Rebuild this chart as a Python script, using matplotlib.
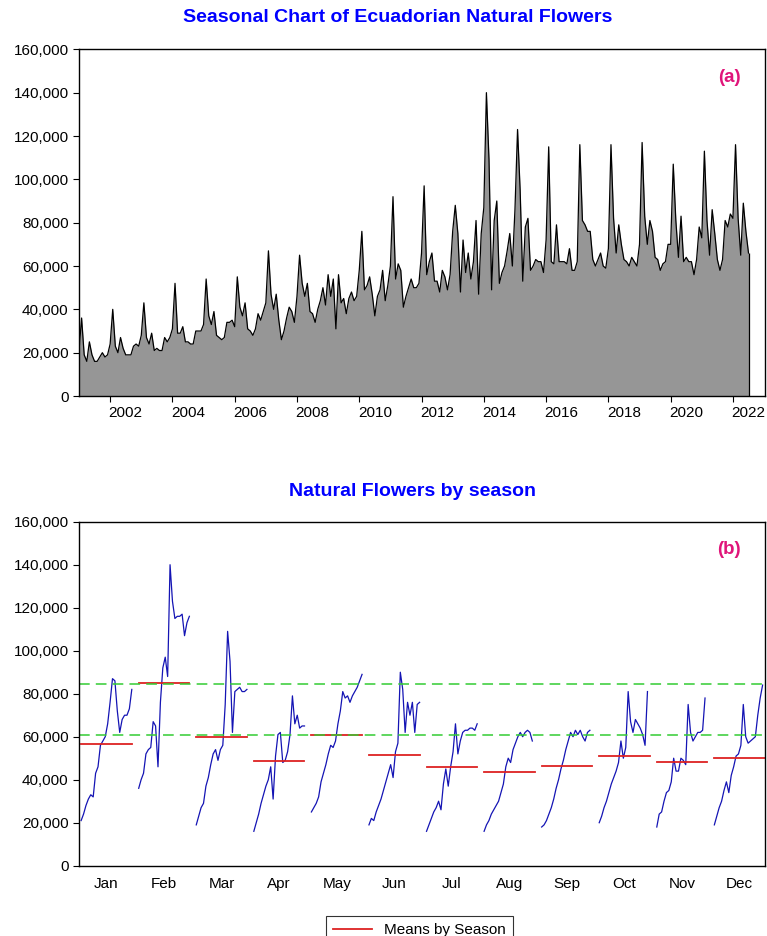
import matplotlib
matplotlib.use('Agg')
import matplotlib.pyplot as plt
from matplotlib.ticker import FuncFormatter

plt.rcParams['font.family'] = ['Liberation Sans', 'DejaVu Sans']

# monthly values (thousands), one list per calendar month, years 2001..2022
start_year = 2001
months = ['Jan', 'Feb', 'Mar', 'Apr', 'May', 'Jun',
          'Jul', 'Aug', 'Sep', 'Oct', 'Nov', 'Dec']
jan = [21, 24, 28, 31, 33, 32, 43, 46, 56, 58, 60, 66, 76, 87, 86, 72, 62, 68, 70, 70, 73, 82]
feb = [36, 40, 43, 52, 54, 55, 67, 65, 46, 76, 92, 97, 88, 140, 123, 115, 116, 116, 117, 107, 113, 116]
mar = [19, 23, 27, 29, 37, 41, 47, 52, 54, 49, 54, 56, 75, 109, 95, 62, 81, 82, 83, 81, 81, 82]
apr = [16, 20, 24, 29, 33, 37, 40, 46, 31, 51, 61, 62, 48, 49, 53, 61, 79, 66, 70, 64, 65, 65]
may = [25, 27, 29, 32, 39, 43, 47, 52, 56, 55, 58, 66, 72, 81, 78, 79, 76, 79, 81, 83, 86, 89]
jun = [19, 22, 21, 25, 28, 31, 35, 39, 43, 47, 41, 53, 57, 90, 82, 62, 76, 70, 76, 62, 75, 76]
jul = [16, 19, 22, 25, 27, 30, 26, 38, 45, 37, 46, 53, 66, 52, 58, 62, 63, 63, 64, 64, 63, 66]
aug = [16, 19, 21, 24, 26, 28, 30, 34, 38, 46, 50, 48, 54, 57, 60, 62, 60, 62, 63, 62, 58]
sep = [18, 19, 21, 24, 27, 31, 36, 40, 45, 49, 54, 58, 62, 60, 63, 61, 63, 60, 58, 62, 63]
oct_ = [20, 23, 27, 30, 34, 38, 41, 44, 48, 58, 50, 55, 81, 67, 62, 68, 66, 64, 61, 56, 81]
nov = [18, 24, 25, 30, 34, 35, 39, 50, 44, 44, 50, 49, 47, 75, 62, 58, 60, 62, 62, 63, 78]
dec = [19, 23, 27, 30, 35, 39, 34, 42, 46, 51, 52, 56, 75, 60, 57, 58, 59, 60, 70, 78, 84]
by_month = [jan, feb, mar, apr, may, jun, jul, aug, sep, oct_, nov, dec]
ref_lines = [60600, 84400]

# chronological series for panel (a)
dates = []
values = []
for i in range(22):
    for m in range(12):
        if i < len(by_month[m]):
            dates.append(start_year + i + m / 12)
            values.append(by_month[m][i] * 1000)

fig = plt.figure(figsize=(7.67, 9.36), dpi=100)
fmt = FuncFormatter(lambda v, p: '{:,.0f}'.format(v))

# ---- panel (a)
ax1 = fig.add_axes([0.103, 0.5769, 0.8944, 0.3704])
ax1.fill_between(dates, values, 0, color='#969696', lw=0)
ax1.plot(dates, values, color='black', lw=0.9)
ax1.vlines(dates[-1], 0, values[-1], color='black', lw=0.9)
ax1.set_xlim(2001, 2023.03)
ax1.set_ylim(0, 160000)
ax1.set_yticks(range(0, 160001, 20000))
ax1.yaxis.set_major_formatter(fmt)
ax1.set_xticks(range(2002, 2023, 2))
ax1.set_xticklabels([])
ax1.set_xticks([y + 0.5 for y in range(2002, 2023, 2)], minor=True)
ax1.set_xticklabels([str(y) for y in range(2002, 2023, 2)], minor=True)
ax1.tick_params(axis='x', which='minor', length=0, pad=7, labelsize=11)
ax1.tick_params(axis='x', which='major', length=4, direction='out')
ax1.tick_params(axis='y', length=4, direction='out', labelsize=11)
ax1.text(0.965, 0.92, '(a)', transform=ax1.transAxes, ha='right', va='center',
         color='#E0157A', fontsize=13.5, fontweight='bold')
fig.text(0.518, 0.981, 'Seasonal Chart of Ecuadorian Natural Flowers', ha='center',
         va='center', color='#0000FF', fontsize=14, fontweight='bold')

# ---- panel (b)
ax2 = fig.add_axes([0.103, 0.0751, 0.8944, 0.3675])
half = 0.44
for m, vals in enumerate(by_month):
    xs = [m - half + 2 * half * k / 21 for k in range(len(vals))]
    ax2.plot(xs, [v * 1000 for v in vals], color='#1414B4', lw=0.9)
    mean = sum(vals) / len(vals) * 1000
    ax2.plot([m - half, m + half], [mean, mean], color='#DD2222', lw=1.3,
             label='Means by Season' if m == 0 else None)
for r in ref_lines:
    ax2.axhline(r, color='#33CC33', lw=1.1, dashes=(7, 4))
ax2.set_xlim(-0.477, 11.44)
ax2.set_ylim(0, 160000)
ax2.set_yticks(range(0, 160001, 20000))
ax2.yaxis.set_major_formatter(fmt)
ax2.set_xticks(range(12))
ax2.set_xticklabels(months)
ax2.tick_params(axis='x', length=0, pad=8, labelsize=11)
ax2.tick_params(axis='y', length=4, direction='out', labelsize=11)
ax2.text(0.965, 0.92, '(b)', transform=ax2.transAxes, ha='right', va='center',
         color='#E0157A', fontsize=13.5, fontweight='bold')
fig.text(0.538, 0.475, 'Natural Flowers by season', ha='center',
         va='center', color='#0000FF', fontsize=14, fontweight='bold')

leg = fig.legend(loc='upper center', bbox_to_anchor=(0.547, 0.030), fontsize=11,
                 frameon=True, fancybox=False, handlelength=2.5, borderpad=0.5)
leg.get_frame().set_edgecolor('black')
leg.get_frame().set_linewidth(0.8)

for ax in (ax1, ax2):
    for s in ax.spines.values():
        s.set_linewidth(1.0)

fig.savefig('out.png', dpi=100)
